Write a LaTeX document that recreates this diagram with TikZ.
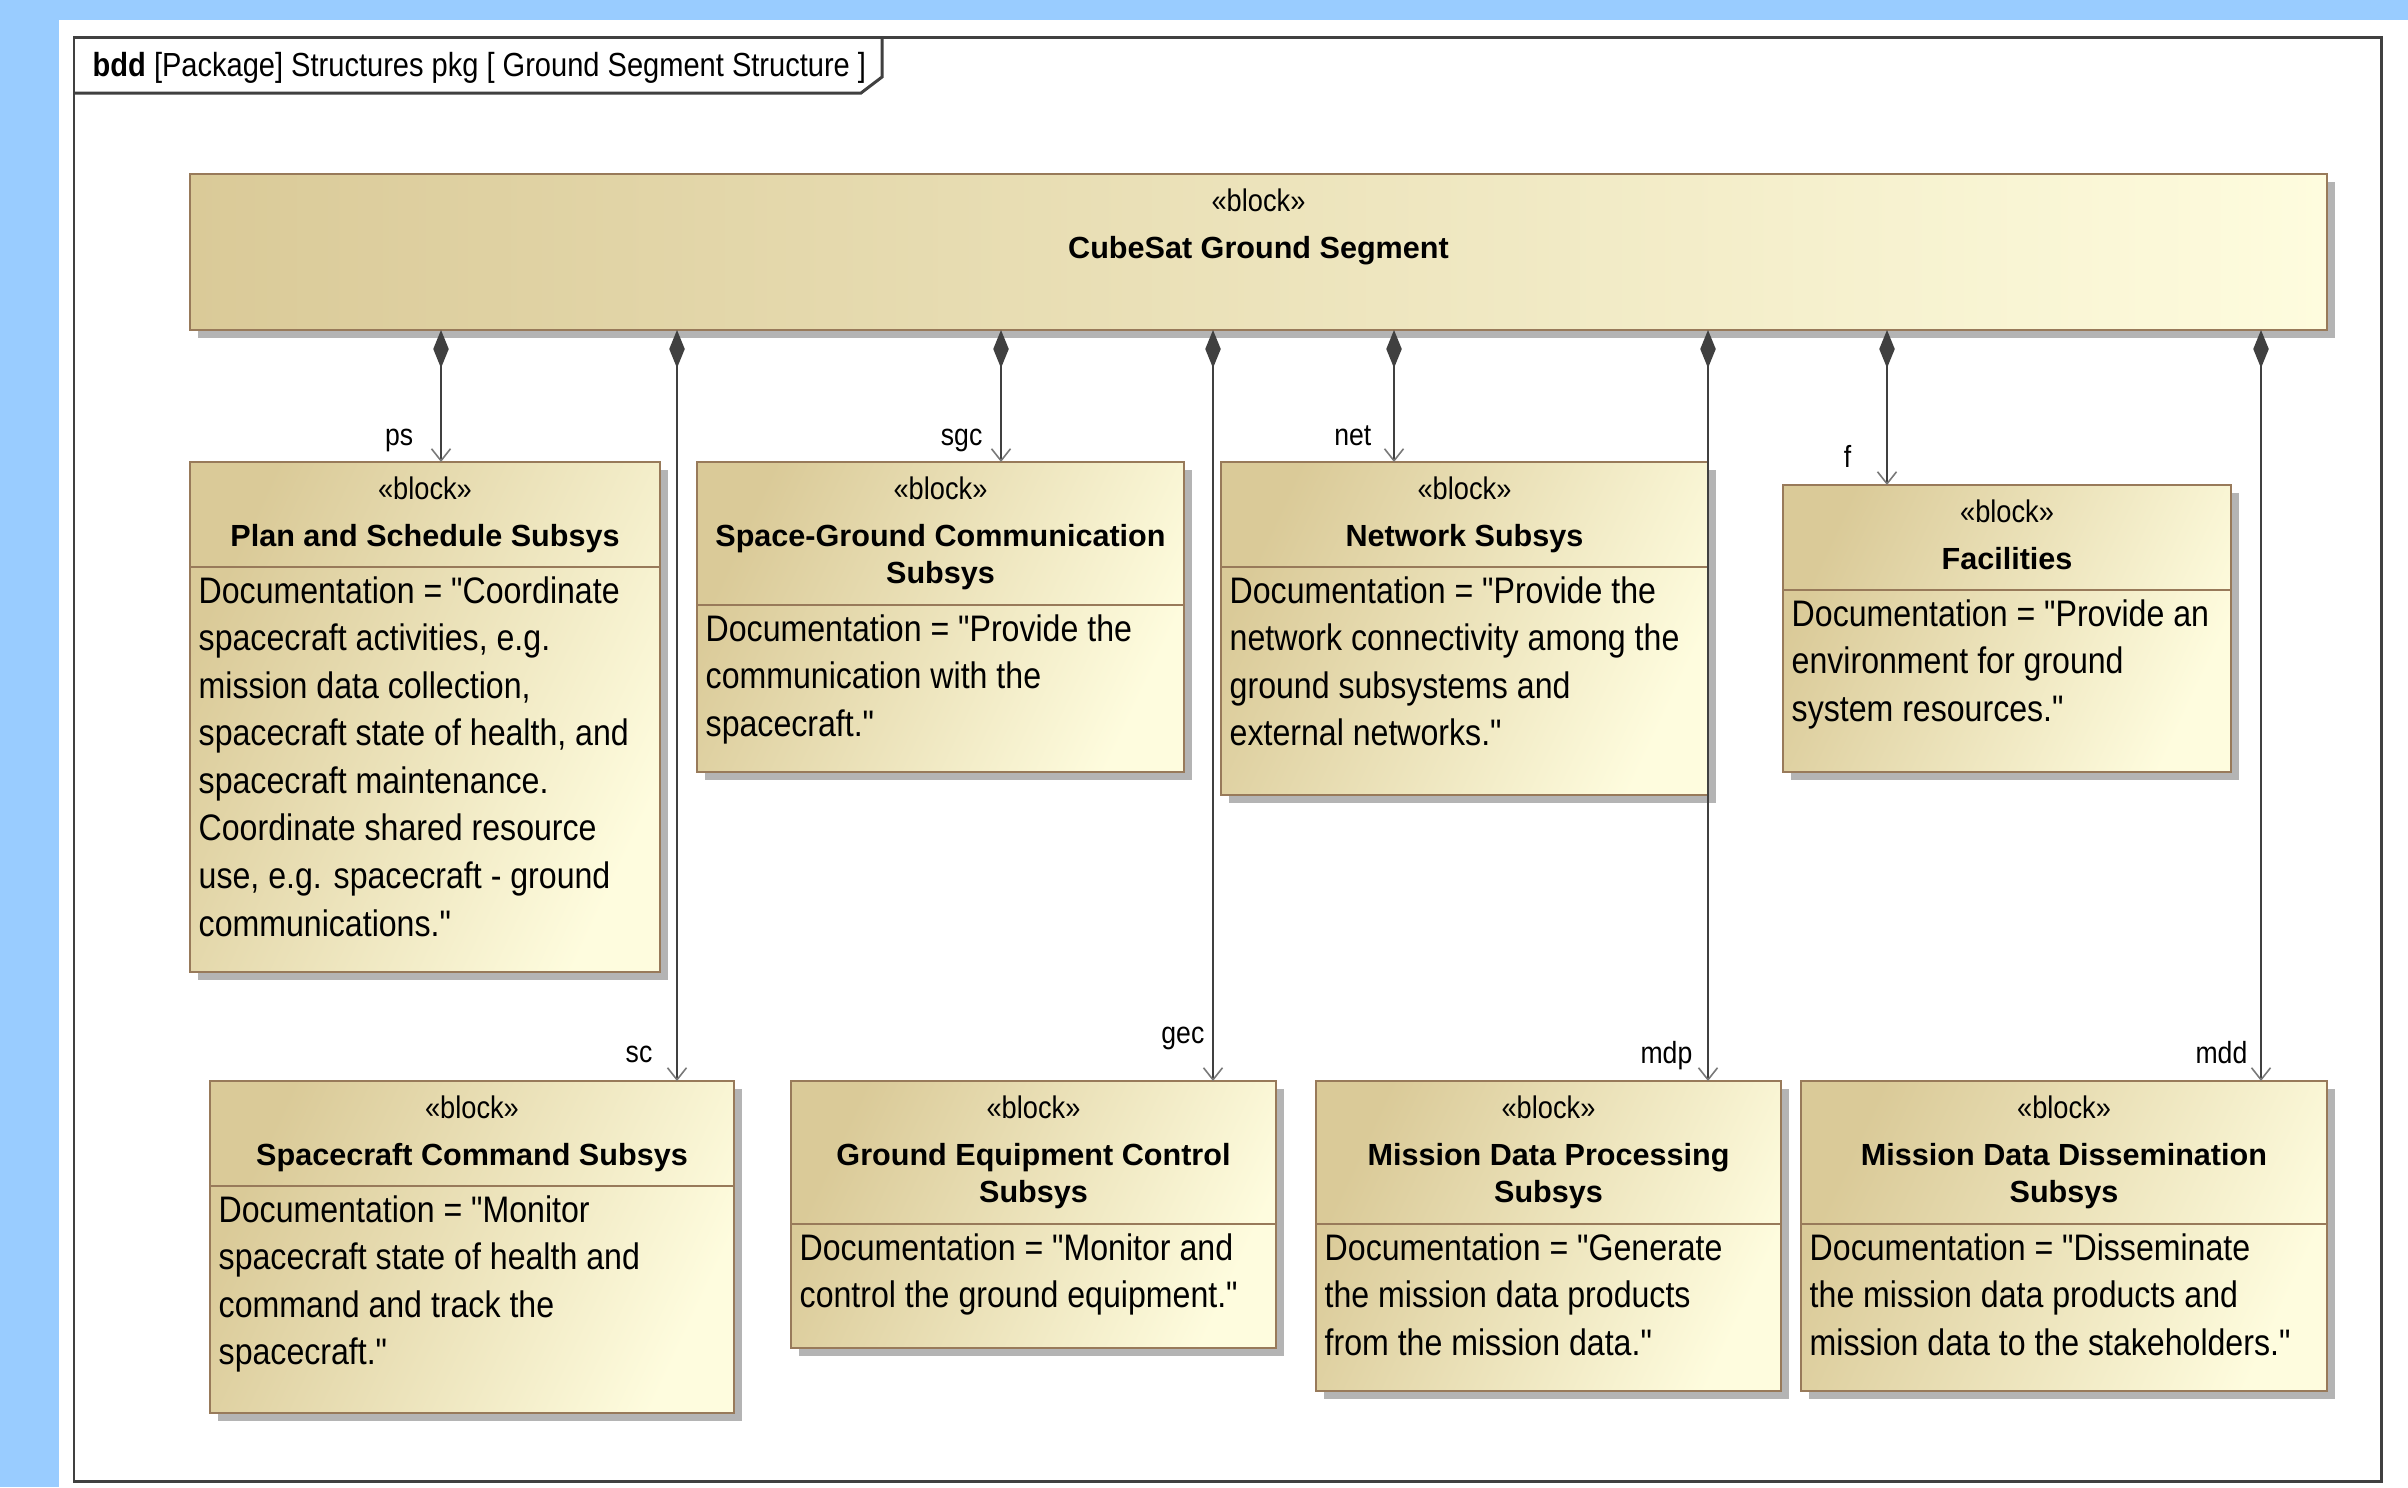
\documentclass[tikz,border=0pt]{standalone}
\usepackage{fontspec}
\setmainfont{Liberation Sans}
\newfontfamily\docfont{Liberation Sans}[FakeStretch=0.87]
\usetikzlibrary{arrows.meta,shadows}
\definecolor{bluebg}{RGB}{153,204,255}
\definecolor{framecol}{RGB}{64,64,64}
\definecolor{bordercol}{RGB}{152,122,90}
\definecolor{shadowcol}{RGB}{180,180,180}
\definecolor{tanL}{RGB}{218,202,152}
\definecolor{paleR}{RGB}{254,252,222}
\definecolor{linecol}{RGB}{64,64,64}
\definecolor{tipcol}{RGB}{120,120,120}
\tikzset{
  blk/.style={draw=bordercol, line width=0.8pt, inner sep=0pt, outer sep=0pt, anchor=north west,
    drop shadow={shadow xshift=2.2pt, shadow yshift=-2.3pt, fill=shadowcol, opacity=1}},
  diagshade/.style={top color=tanL, bottom color=paleR, shading angle=65},
  sepline/.style={draw=bordercol, line width=0.8pt},
  framestyle/.style={draw=framecol, line width=0.85pt},
  doc/.style={anchor=base west, inner sep=0pt, font=\docfont\fontsize{10.5}{13.54}\selectfont},
  stereo/.style={anchor=base, inner sep=0pt, font=\docfont\fontsize{8.9}{10}\selectfont},
  bname/.style={anchor=base, inner sep=0pt, font=\bfseries\fontsize{8.7}{10.8}\selectfont},
  lbl/.style={anchor=base east, inner sep=0pt, font=\docfont\fontsize{8.7}{10}\selectfont},
  conn/.style={draw=linecol, line width=0.75pt,
    {Diamond[length=3.8mm,width=1.55mm,fill=linecol,color=linecol]}-{Straight Barb[length=1.2mm,width=1.9mm,line width=0.45pt,color=tipcol]}}
}
\begin{document}
\begin{tikzpicture}[x=0.1mm,y=-0.1mm]
\useasboundingbox (0,0) rectangle (2408,1487);
\fill[bluebg] (0,0) rectangle (2408,1487);
\fill[white] (59,20) rectangle (2408,1487);
% frame
\draw[framestyle] (74,37) rectangle (2381,1481);
\draw[framestyle] (74,93) -- (861,93) -- (882,77) -- (882,37);
\node[anchor=base west, inner sep=0pt, font=\docfont\fontsize{9.5}{11}\selectfont] (title) at (92,76)
  {\textbf{bdd} [Package] Structures pkg [ Ground Segment Structure ]};

% top block
\node[blk, minimum width=213.7mm, minimum height=15.6mm, left color=tanL, right color=paleR] (top) at (190,174) {};
\node[stereo] at ([yshift=-3.7mm]top.north) {«block»};
\node[bname] at ([yshift=-8.4mm]top.north) {CubeSat Ground Segment};

% row 1
\node[blk, diagshade, minimum width=47.0mm, minimum height=51.0mm] (ps) at (190,462) {};
\node[blk, diagshade, minimum width=48.7mm, minimum height=31.0mm] (sgc) at (697,462) {};
\node[blk, diagshade, minimum width=48.7mm, minimum height=33.3mm] (net) at (1221,462) {};
\node[blk, diagshade, minimum width=44.8mm, minimum height=28.7mm] (fac) at (1783,485) {};
% row 2
\node[blk, diagshade, minimum width=52.4mm, minimum height=33.2mm] (sc) at (210,1081) {};
\node[blk, diagshade, minimum width=48.5mm, minimum height=26.7mm] (gec) at (791,1081) {};
\node[blk, diagshade, minimum width=46.5mm, minimum height=31.0mm] (mdp) at (1316,1081) {};
\node[blk, diagshade, minimum width=52.6mm, minimum height=31.0mm] (mdd) at (1801,1081) {};

% separators
\foreach \b in {ps,net,fac,sc}{
  \draw[sepline] ([yshift=-10.5mm]\b.north west) -- ([yshift=-10.5mm]\b.north east);
}
\foreach \b in {sgc,gec,mdp,mdd}{
  \draw[sepline] ([yshift=-14.3mm]\b.north west) -- ([yshift=-14.3mm]\b.north east);
}
% stereotypes
\foreach \b in {ps,sgc,net,fac,sc,gec,mdp,mdd}{
  \node[stereo] at ([yshift=-3.7mm]\b.north) {«block»};
}
% names
\node[bname] at ([yshift=-8.4mm]ps.north) {Plan and Schedule Subsys};
\node[bname] at ([yshift=-8.4mm]sgc.north) {\begin{tabular}[t]{@{}c@{}}Space-Ground Communication\\Subsys\end{tabular}};
\node[bname] at ([yshift=-8.4mm]net.north) {Network Subsys};
\node[bname] at ([yshift=-8.4mm]fac.north) {Facilities};
\node[bname] at ([yshift=-8.4mm]sc.north) {Spacecraft Command Subsys};
\node[bname] at ([yshift=-8.4mm]gec.north) {\begin{tabular}[t]{@{}c@{}}Ground Equipment Control\\Subsys\end{tabular}};
\node[bname] at ([yshift=-8.4mm]mdp.north) {\begin{tabular}[t]{@{}c@{}}Mission Data Processing\\Subsys\end{tabular}};
\node[bname] at ([yshift=-8.4mm]mdd.north) {\begin{tabular}[t]{@{}c@{}}Mission Data Dissemination\\Subsys\end{tabular}};

% documentation
\node[doc] at ([xshift=0.8mm,yshift=-14.1mm]ps.north west) {\begin{tabular}[t]{@{}l@{}}Documentation = "Coordinate\\spacecraft activities, e.g.\\mission data collection,\\spacecraft state of health, and\\spacecraft maintenance.\\Coordinate shared resource\\use, e.g. spacecraft - ground\\communications."\end{tabular}};
\node[doc] at ([xshift=0.8mm,yshift=-17.9mm]sgc.north west) {\begin{tabular}[t]{@{}l@{}}Documentation = "Provide the\\communication with the\\spacecraft."\end{tabular}};
\node[doc] at ([xshift=0.8mm,yshift=-14.1mm]net.north west) {\begin{tabular}[t]{@{}l@{}}Documentation = "Provide the\\network connectivity among the\\ground subsystems and\\external networks."\end{tabular}};
\node[doc] at ([xshift=0.8mm,yshift=-14.1mm]fac.north west) {\begin{tabular}[t]{@{}l@{}}Documentation = "Provide an\\environment for ground\\system resources."\end{tabular}};
\node[doc] at ([xshift=0.8mm,yshift=-14.1mm]sc.north west) {\begin{tabular}[t]{@{}l@{}}Documentation = "Monitor\\spacecraft state of health and\\command and track the\\spacecraft."\end{tabular}};
\node[doc] at ([xshift=0.8mm,yshift=-17.9mm]gec.north west) {\begin{tabular}[t]{@{}l@{}}Documentation = "Monitor and\\control the ground equipment."\end{tabular}};
\node[doc] at ([xshift=0.8mm,yshift=-17.9mm]mdp.north west) {\begin{tabular}[t]{@{}l@{}}Documentation = "Generate\\the mission data products\\from the mission data."\end{tabular}};
\node[doc] at ([xshift=0.8mm,yshift=-17.9mm]mdd.north west) {\begin{tabular}[t]{@{}l@{}}Documentation = "Disseminate\\the mission data products and\\mission data to the stakeholders."\end{tabular}};

% connectors
\draw[conn] (top.south -| 441,0) -- (ps.north -| 441,0);
\draw[conn] (top.south -| 677,0) -- (sc.north -| 677,0);
\draw[conn] (top.south -| 1001,0) -- (sgc.north -| 1001,0);
\draw[conn] (top.south -| 1213,0) -- (gec.north -| 1213,0);
\draw[conn] (top.south -| 1394,0) -- (net.north -| 1394,0);
\draw[conn] (top.south -| 1708,0) -- (mdp.north -| 1708,0);
\draw[conn] (top.south -| 1887,0) -- (fac.north -| 1887,0);
\draw[conn] (top.south -| 2261,0) -- (mdd.north -| 2261,0);

% role labels
\node[lbl] (lps) at (414,445) {ps};
\node[lbl] (lsgc) at (983,445) {sgc};
\node[lbl] (lnet) at (1372,445) {net};
\node[lbl] (lf) at (1852,467) {f};
\node[lbl] (lsc) at (653,1062) {sc};
\node[lbl] (lgec) at (1205,1043) {gec};
\node[lbl] (lmdp) at (1693,1063) {mdp};
\node[lbl] (lmdd) at (2248,1063) {mdd};
\end{tikzpicture}
\end{document}
